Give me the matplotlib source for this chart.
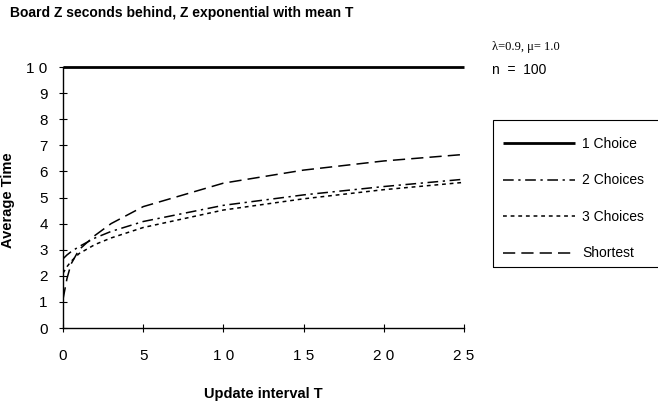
import matplotlib.pyplot as plt
from matplotlib.patches import Rectangle

# Update interval T and average time for each strategy
t_values = [0, 0.25, 0.5, 1, 2, 3, 5, 10, 15, 20, 25]
one_choice = [10, 10, 10, 10, 10, 10, 10, 10, 10, 10, 10]
two_choices = [2.65, 2.8, 2.92, 3.12, 3.45, 3.7, 4.08, 4.7, 5.1, 5.42, 5.7]
three_choices = [2.1, 2.35, 2.55, 2.85, 3.2, 3.45, 3.85, 4.52, 4.95, 5.3, 5.58]
shortest = [1.1, 1.9, 2.45, 3.0, 3.55, 4.0, 4.65, 5.55, 6.05, 6.4, 6.65]

x_ticks = [0, 5, 10, 15, 20, 25]
y_ticks = list(range(0, 11))


def spaced(v):
    # the original tick labels are drawn with wide letter spacing
    return " ".join(str(v))


plt.rcParams["font.family"] = ["Liberation Sans", "DejaVu Sans"]

fig = plt.figure(figsize=(6.58, 4.08), dpi=100)
ax = fig.add_axes([63 / 658, 1 - 328 / 408, (464 - 63) / 658, (328 - 67) / 408])

ax.plot(t_values, one_choice, color="black", lw=2.0, solid_capstyle="butt",
        clip_on=False, label="1 Choice")
ax.plot(t_values, two_choices, color="black", lw=1.1,
        dashes=(7, 3, 1.5, 3), label="2 Choices")
ax.plot(t_values, three_choices, color="black", lw=1.1,
        dashes=(2.5, 2.5), label="3 Choices")
ax.plot(t_values, shortest, color="black", lw=1.1,
        dashes=(8, 4), label="Shortest")

ax.set_xlim(0, 25)
ax.set_ylim(0, 10)
ax.set_xticks(x_ticks)
ax.set_xticklabels([spaced(v) for v in x_ticks])
ax.set_yticks(y_ticks)
ax.set_yticklabels([spaced(v) for v in y_ticks])
ax.tick_params(axis="both", direction="inout", length=6, width=0.8,
               labelsize=11, colors="black")
ax.tick_params(axis="x", pad=12)
ax.tick_params(axis="y", pad=8)

for side in ["top", "right"]:
    ax.spines[side].set_visible(False)
for side in ["left", "bottom"]:
    ax.spines[side].set_linewidth(1.0)

fig.text(10 / 658, 1 - 13 / 408, "Board Z seconds behind, Z exponential with mean T",
         fontsize=10, fontweight="bold", ha="left", va="center")
fig.text(263 / 658, 1 - 394 / 408, "Update interval T", fontsize=10.5,
         fontweight="bold", ha="center", va="center")
fig.text(8 / 658, 1 - 200 / 408, "Average Time", fontsize=10.5,
         fontweight="bold", ha="center", va="center", rotation=90)

fig.text(492 / 658, 1 - 47 / 408, "λ=0.9, μ= 1.0", fontsize=9,
         family="Liberation Serif", ha="left", va="center")
fig.text(492 / 658, 1 - 70 / 408, "n  =  100", fontsize=10,
         ha="left", va="center")

# legend box runs off the right edge in the original, so draw the frame by hand
fig.patches.append(Rectangle((492.5 / 658, 1 - 267 / 408), 170 / 658, 147 / 408,
                             transform=fig.transFigure, fill=False,
                             edgecolor="black", linewidth=0.8))
leg = fig.legend(loc="upper left", bbox_to_anchor=(503 / 658, 1 - 137 / 408),
                 borderaxespad=0, fontsize=10, handlelength=5.2, handletextpad=0.5,
                 labelspacing=1.62, borderpad=0, frameon=False)

fig.savefig("out.png", dpi=100)
